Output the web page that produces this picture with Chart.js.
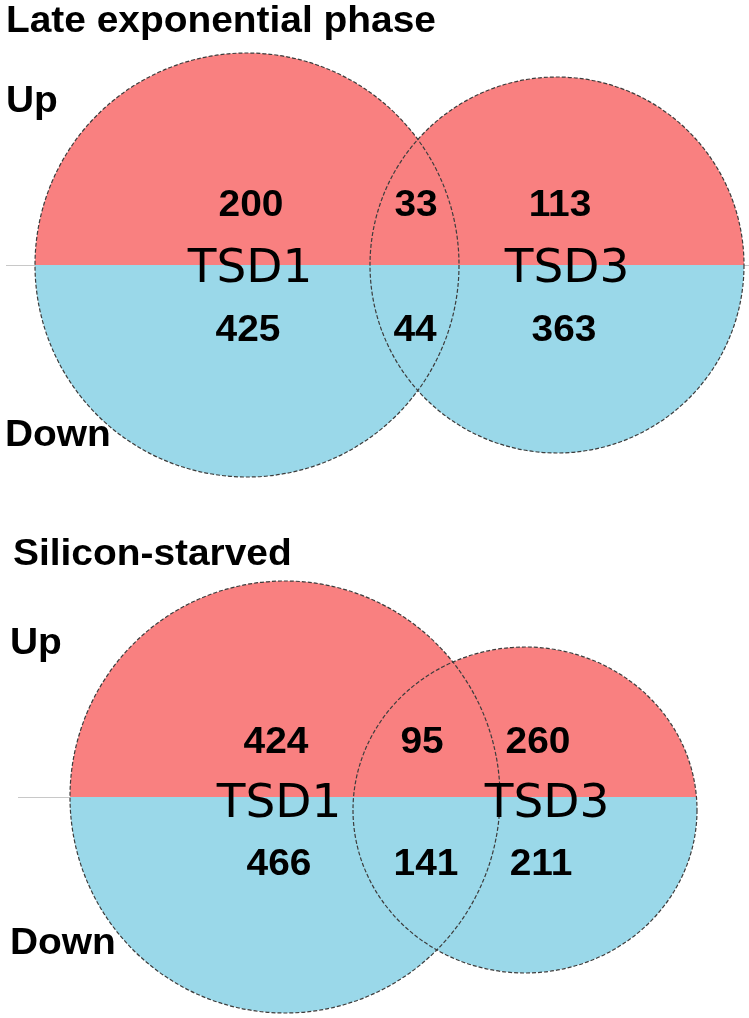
<!DOCTYPE html>
<html lang="en">
<head>
    <meta charset="UTF-8">
    <title>Venn - TSD1 / TSD3</title>
    <script src="https://cdn.jsdelivr.net/npm/chart.js@4"></script>
    <style>
        html, body { margin: 0; padding: 0; background: #fff; }
        #venn { display: block; }
    </style>
</head>
<body>
    <canvas id="venn" width="749" height="1018"></canvas>

    <script>
        // Data
        const panelTitles = ['Late exponential phase', 'Silicon-starved'];
        const setNames = ['TSD1', 'TSD3'];
        const directions = ['Up', 'Down'];
        // regions: TSD1 only, TSD1 & TSD3, TSD3 only
        const upCounts = [[200, 33, 113], [424, 95, 260]];
        const downCounts = [[425, 44, 363], [466, 141, 211]];

        // Layout (chart units, 1 unit = 1px)
        const circleX = [[247, 557], [285, 525]];
        const circleY = [[265, 265], [797, 810]];
        const circleRX = [[212, 187], [215, 172]];
        const circleRY = [[212, 188], [216, 163]];
        const splitY = [265, 797];
        const guideLine = [[6, 749], [18, 360]];
        const titlePos = [[6, 32], [13, 565]];
        const upPos = [[6, 112], [10, 654]];
        const downPos = [[5, 446], [10, 954]];
        const upX = [[251, 416, 560], [276, 422, 538]];
        const upY = [203, 740];
        const downX = [[248, 415, 564], [279, 426, 541]];
        const downY = [328, 862];
        const setLabelX = [[250, 567], [279, 547]];
        const setLabelY = [265, 800];

        const RED = '#f98080';
        const BLUE = '#9ad8e9';
        const BOLD = 'bold 36px "Liberation Sans", Arial, sans-serif';
        const STRETCH = 1.08;

        // construire les jeux de points
        const circlePts = [], upPts = [], downPts = [], namePts = [];
        panelTitles.forEach((t, p) => {
            setNames.forEach((s, c) => {
                circlePts.push({ x: circleX[p][c], y: circleY[p][c], rx: circleRX[p][c], ry: circleRY[p][c], panel: p });
                namePts.push({ x: setLabelX[p][c], y: setLabelY[p], text: s });
            });
            upCounts[p].forEach((v, r) => upPts.push({ x: upX[p][r], y: upY[p], text: String(v) }));
            downCounts[p].forEach((v, r) => downPts.push({ x: downX[p][r], y: downY[p], text: String(v) }));
        });

        function boldText(ctx, text, x, y, align) {
            ctx.save();
            ctx.font = BOLD;
            ctx.fillStyle = '#000';
            ctx.textBaseline = 'alphabetic';
            ctx.translate(x, y);
            ctx.scale(STRETCH, 1);
            let w = ctx.measureText(text).width;
            ctx.fillText(text, align === 'center' ? -w / 2 : 0, 0);
            ctx.restore();
        }

        const vennPlugin = {
            id: 'venn',
            beforeDatasetsDraw(chart) {
                const ctx = chart.ctx;
                const xs = chart.scales.x, ys = chart.scales.y;
                const meta = chart.getDatasetMeta(0);
                const data = chart.data.datasets[0].data;

                // lignes grises
                ctx.save();
                ctx.strokeStyle = '#c8c8c8';
                ctx.lineWidth = 1;
                splitY.forEach((sy, p) => {
                    ctx.beginPath();
                    ctx.moveTo(xs.getPixelForValue(guideLine[p][0]), ys.getPixelForValue(sy) + 0.5);
                    ctx.lineTo(xs.getPixelForValue(guideLine[p][1]), ys.getPixelForValue(sy) + 0.5);
                    ctx.stroke();
                });
                ctx.restore();

                const geo = meta.data.map((el, i) => {
                    const d = data[i];
                    return {
                        cx: el.x, cy: el.y,
                        rx: xs.getPixelForValue(d.x + d.rx) - el.x,
                        ry: Math.abs(ys.getPixelForValue(d.y + d.ry) - el.y),
                        sy: ys.getPixelForValue(splitY[d.panel])
                    };
                });

                // remplissage rouge / bleu
                geo.forEach(g => {
                    ctx.save();
                    ctx.beginPath();
                    ctx.ellipse(g.cx, g.cy, g.rx, g.ry, 0, 0, Math.PI * 2);
                    ctx.clip();
                    ctx.fillStyle = RED;
                    ctx.fillRect(g.cx - g.rx - 2, g.cy - g.ry - 2, g.rx * 2 + 4, g.sy - (g.cy - g.ry - 2));
                    ctx.fillStyle = BLUE;
                    ctx.fillRect(g.cx - g.rx - 2, g.sy, g.rx * 2 + 4, g.cy + g.ry + 2 - g.sy);
                    ctx.restore();
                });

                // contours pointillés
                ctx.save();
                ctx.strokeStyle = '#3c3c3c';
                ctx.lineWidth = 1.2;
                ctx.setLineDash([4, 2]);
                geo.forEach(g => {
                    ctx.beginPath();
                    ctx.ellipse(g.cx, g.cy, g.rx, g.ry, 0, 0, Math.PI * 2);
                    ctx.stroke();
                });
                ctx.restore();
            },
            afterDatasetsDraw(chart) {
                const ctx = chart.ctx;
                const xs = chart.scales.x, ys = chart.scales.y;

                // titres et Up / Down
                panelTitles.forEach((t, p) => {
                    boldText(ctx, t, xs.getPixelForValue(titlePos[p][0]), ys.getPixelForValue(titlePos[p][1]), 'left');
                    boldText(ctx, directions[0], xs.getPixelForValue(upPos[p][0]), ys.getPixelForValue(upPos[p][1]), 'left');
                    boldText(ctx, directions[1], xs.getPixelForValue(downPos[p][0]), ys.getPixelForValue(downPos[p][1]), 'left');
                });

                // nombres
                [1, 2].forEach(di => {
                    const meta = chart.getDatasetMeta(di);
                    const data = chart.data.datasets[di].data;
                    meta.data.forEach((el, i) => boldText(ctx, data[i].text, el.x, el.y + 13, 'center'));
                });

                // TSD1 / TSD3
                const meta = chart.getDatasetMeta(3);
                const data = chart.data.datasets[3].data;
                ctx.save();
                ctx.font = '47px "DejaVu Sans", sans-serif';
                ctx.fillStyle = '#000';
                ctx.textAlign = 'center';
                ctx.textBaseline = 'alphabetic';
                meta.data.forEach((el, i) => ctx.fillText(data[i].text, el.x, el.y + 17));
                ctx.restore();
            }
        };

        const ctx = document.getElementById('venn').getContext('2d');
        new Chart(ctx, {
            type: 'scatter',
            data: {
                datasets: [
                    { label: 'sets', data: circlePts, pointRadius: 0 },
                    { label: 'Up', data: upPts, pointRadius: 0 },
                    { label: 'Down', data: downPts, pointRadius: 0 },
                    { label: 'names', data: namePts, pointRadius: 0 }
                ]
            },
            options: {
                responsive: false,
                animation: false,
                events: [],
                layout: { padding: 0 },
                plugins: {
                    legend: { display: false },
                    tooltip: { enabled: false }
                },
                scales: {
                    x: { type: 'linear', min: 0, max: 749, display: false },
                    y: { type: 'linear', min: 0, max: 1018, reverse: true, display: false }
                }
            },
            plugins: [vennPlugin]
        });
    </script>
</body>
</html>
